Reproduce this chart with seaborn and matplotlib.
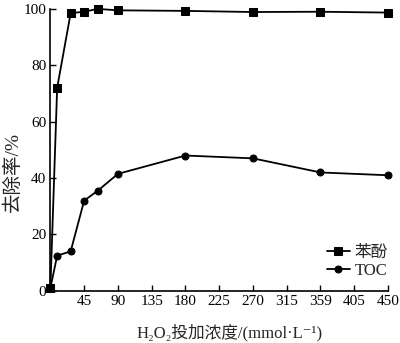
import numpy as np
import pandas as pd
import matplotlib
matplotlib.use('Agg')
import matplotlib.pyplot as plt
import seaborn as sns

# dados
dose = [0, 9, 27, 45, 63, 90, 180, 270, 360, 450]
fenol = [1, 72, 98.5, 99, 100, 99.5, 99.3, 98.9, 99, 98.7]
toc = [1, 12.5, 14, 32, 35.5, 41.5, 48, 47, 42, 41]
xticks = [45, 90, 135, 180, 225, 270, 315, 360, 405, 450]
xticklabels = ['45', '90', '135', '180', '225', '270', '315', '359', '405', '450']
yticks = [0, 20, 40, 60, 80, 100]

sns.set_style('ticks')
plt.rcParams['font.family'] = ['Liberation Serif', 'Noto Sans CJK SC', 'DejaVu Sans']
plt.rcParams['font.size'] = 12

df = pd.DataFrame({'dose': dose, 'fenol': fenol, 'toc': toc})

fig = plt.figure(figsize=(4, 3.43), dpi=100)
ax = fig.add_axes([0.126, 0.152, 0.844, 0.822])

sns.lineplot(data=df, x='dose', y='fenol', ax=ax, color='black', marker='s',
             markersize=5.5, markeredgecolor='black', linewidth=1.3,
             label='苯酚', clip_on=False)
sns.lineplot(data=df, x='dose', y='toc', ax=ax, color='black', marker='o',
             markersize=5, markeredgecolor='black', linewidth=1.3,
             label='TOC', clip_on=False)

ax.set_xlim(0, 450)
ax.set_ylim(0, 100)
ax.set_xticks(xticks)
ax.set_xticklabels(xticklabels)
ax.set_yticks(yticks)
ax.tick_params(direction='in', length=4, width=1, colors='black', labelsize=11, pad=3)
for s in ['left', 'bottom']:
    ax.spines[s].set_linewidth(1.2)
    ax.spines[s].set_color('black')
sns.despine(ax=ax)

ax.set_xlabel('H₂O₂投加浓度/(mmol·L⁻¹)', fontsize=12)
ax.xaxis.set_label_coords(0.53, -0.115)
ax.set_ylabel('去除率/%', fontsize=14)
ax.yaxis.set_label_coords(-0.085, 0.42)

leg = ax.legend(loc='lower right', bbox_to_anchor=(1.02, 0.02), frameon=False,
                handlelength=1.4, handletextpad=0.3, labelspacing=0.1,
                fontsize=12, borderaxespad=0.0)

fig.savefig('out.png', dpi=100)
